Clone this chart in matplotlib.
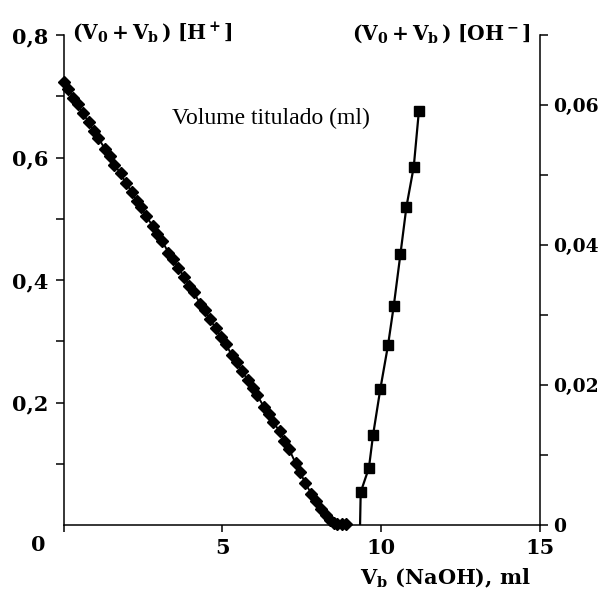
import numpy as np
import matplotlib
matplotlib.use('Agg')
import matplotlib.pyplot as plt
from matplotlib.ticker import FixedLocator

# dados
vb_h = [0.0, 0.15, 0.3, 0.45, 0.6, 0.8, 0.95, 1.1, 1.3, 1.45, 1.6, 1.8, 1.95,
        2.15, 2.3, 2.45, 2.6, 2.8, 2.95, 3.1, 3.3, 3.45, 3.6, 3.8, 3.95, 4.1,
        4.3, 4.45, 4.6, 4.8, 4.95, 5.1, 5.3, 5.45, 5.6, 5.8, 5.95, 6.1, 6.3,
        6.45, 6.6, 6.8, 6.95, 7.1, 7.3, 7.45, 7.6, 7.8, 7.95, 8.1, 8.25, 8.4,
        8.5, 8.6, 8.75, 8.9]
gran_h = [0.724, 0.712, 0.698, 0.687, 0.672, 0.658, 0.643, 0.632, 0.614, 0.603,
          0.588, 0.574, 0.559, 0.544, 0.529, 0.519, 0.504, 0.489, 0.475, 0.464,
          0.445, 0.435, 0.420, 0.405, 0.391, 0.380, 0.361, 0.351, 0.336, 0.321,
          0.307, 0.296, 0.277, 0.267, 0.252, 0.237, 0.223, 0.212, 0.193, 0.182,
          0.168, 0.153, 0.138, 0.124, 0.101, 0.086, 0.069, 0.051, 0.039, 0.027,
          0.017, 0.009, 0.004, 0.002, 0.001, 0.001]

vb_oh = [9.35, 9.61, 9.74, 9.97, 10.21, 10.39, 10.60, 10.79, 11.02, 11.18]
gran_oh = [0.0047, 0.0082, 0.0129, 0.0195, 0.0257, 0.0313, 0.0387, 0.0455,
           0.0512, 0.0591]
# inicio da reta OH- no eixo
vb_oh_zero = 9.33

yl_ticks = [0.2, 0.4, 0.6, 0.8]
yl_labels = ['0,2', '0,4', '0,6', '0,8']
yr_ticks = [0, 0.02, 0.04, 0.06]
yr_labels = ['0', '0,02', '0,04', '0,06']
x_ticks = [0, 5, 10, 15]
x_labels = ['', '5', '10', '15']

plt.rcParams['font.family'] = 'DejaVu Serif'
plt.rcParams['mathtext.fontset'] = 'custom'
plt.rcParams['mathtext.rm'] = 'DejaVu Serif'
plt.rcParams['mathtext.bf'] = 'DejaVu Serif:bold'
plt.rcParams['mathtext.it'] = 'DejaVu Serif:italic'

fig = plt.figure(figsize=(6.05, 5.94), dpi=100)
ax = fig.add_axes([0.105, 0.116, 0.788, 0.825])
ax2 = ax.twinx()

ax.plot(vb_h, gran_h, '-D', color='black', lw=1.4, ms=6, clip_on=False, zorder=3)
ax2.plot([vb_oh_zero] + vb_oh, [0] + gran_oh, '-', color='black', lw=1.6, zorder=3)
ax2.plot(vb_oh, gran_oh, 's', color='black', ms=6.5, clip_on=False, zorder=3)

ax.set_xlim(0, 15)
ax.set_ylim(0, 0.8)
ax2.set_ylim(0, 0.07)

for a in (ax, ax2):
    a.spines['top'].set_visible(False)
    for s in a.spines.values():
        s.set_linewidth(1.1)
ax.spines['right'].set_visible(False)
ax2.spines['left'].set_visible(False)
ax2.spines['bottom'].set_visible(False)

ax.set_xticks(x_ticks)
ax.set_xticklabels(x_labels, fontsize=15, fontweight='bold')
ax.set_yticks(yl_ticks)
ax.set_yticklabels(yl_labels, fontsize=15, fontweight='bold')
ax.yaxis.set_minor_locator(FixedLocator([0.1, 0.3, 0.5, 0.7]))
ax2.set_yticks(yr_ticks)
ax2.set_yticklabels(yr_labels, fontsize=13.5, fontweight='bold')
ax2.yaxis.set_minor_locator(FixedLocator([0.01, 0.03, 0.05, 0.07]))

ax.tick_params(axis='x', direction='out', length=5, width=1.1, pad=4)
ax.tick_params(axis='y', which='both', direction='out', length=6, width=1.1, pad=5)
ax2.tick_params(axis='y', which='both', direction='out', length=6, width=1.1, pad=3)

ax.text(0.436, 0.83, 'Volume titulado (ml)', transform=ax.transAxes,
        ha='center', va='center', fontsize=17, family='Liberation Serif')

fig.text(0.119, 0.944, r'$\mathbf{(V_0+V_b\,)\ [H^+]}$', ha='left', va='center', fontsize=14.5)
fig.text(0.876, 0.944, r'$\mathbf{(V_0+V_b\,)\ [OH^-]}$', ha='right', va='center', fontsize=14.5)
fig.text(0.736, 0.027, r'$\mathbf{V_b}$ (NaOH), ml', ha='center', va='center',
         fontsize=15, fontweight='bold')
fig.text(0.063, 0.083, '0', ha='center', va='center', fontsize=15, fontweight='bold')

fig.savefig('out.png', dpi=100)
